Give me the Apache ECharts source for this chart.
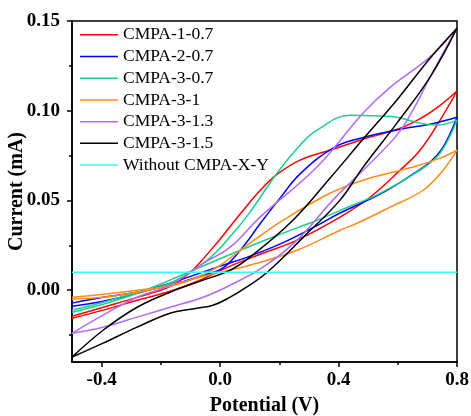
<!DOCTYPE html>
<html>
<head>
<meta charset="utf-8">
<script src="https://cdn.jsdelivr.net/npm/echarts@6/dist/echarts.min.js"></script>
<style>
  html, body { margin: 0; padding: 0; background: #fff; }
  #main { width: 471px; height: 416px; }
</style>
</head>
<body>
<div id="main"></div>
<script>
// CV loops: forward scan -0.5 -> 0.8 V, then back to -0.5 V  [potential, current]
var cmpa1_07 = [
  [-0.5, -0.0145], [-0.395, -0.0095], [-0.28, -0.004], [-0.169, 0.002], [-0.111, 0.0085],
  [-0.068, 0.0155], [-0.01, 0.0265], [0.034, 0.0355], [0.078, 0.0445], [0.135, 0.0555],
  [0.192, 0.0645], [0.27, 0.0725], [0.381, 0.0785], [0.473, 0.0836], [0.608, 0.0903],
  [0.685, 0.0965], [0.743, 0.103], [0.8, 0.111],
  [0.743, 0.0948], [0.675, 0.078], [0.608, 0.0669], [0.506, 0.0518], [0.405, 0.0407],
  [0.26, 0.0279], [0.145, 0.0206], [0.034, 0.0134], [-0.068, 0.0056], [-0.169, -0.0006],
  [-0.28, -0.0056], [-0.395, -0.0111], [-0.5, -0.0156]
];
var cmpa2_07 = [
  [-0.5, -0.0072], [-0.395, -0.0039], [-0.28, -0.0011], [-0.169, 0.0028], [-0.068, 0.0078],
  [0, 0.0115], [0.034, 0.0158], [0.084, 0.0255], [0.135, 0.037], [0.2025, 0.0513],
  [0.27, 0.0648], [0.381, 0.0792], [0.473, 0.0847], [0.608, 0.0897], [0.709, 0.0925],
  [0.8, 0.0964],
  [0.753, 0.0797], [0.709, 0.0714], [0.651, 0.0647], [0.54, 0.0535], [0.405, 0.043],
  [0.327, 0.036], [0.213, 0.0265], [0.101, 0.019], [0, 0.0134], [-0.068, 0.0095],
  [-0.169, 0.0039], [-0.28, -0.0017], [-0.395, -0.0061], [-0.5, -0.0089]
];
var cmpa3_07 = [
  [-0.5, -0.0111], [-0.395, -0.0067], [-0.28, -0.0011], [-0.169, 0.0039], [-0.044, 0.0167],
  [0.044, 0.0318], [0.101, 0.0435], [0.192, 0.0652], [0.27, 0.0808], [0.327, 0.0892],
  [0.439, 0.0975], [0.54, 0.097], [0.597, 0.0964], [0.675, 0.0931], [0.732, 0.092],
  [0.8, 0.0948],
  [0.743, 0.0764], [0.675, 0.0669], [0.54, 0.054], [0.439, 0.0468], [0.327, 0.039],
  [0.213, 0.0318], [0.101, 0.0245], [-0.068, 0.0128], [-0.169, 0.0056], [-0.28, -0.0017],
  [-0.395, -0.0078], [-0.5, -0.0123]
];
var cmpa3_1 = [
  [-0.5, -0.0039], [-0.395, -0.0022], [-0.28, 0], [-0.169, 0.0022], [-0.068, 0.0078],
  [0, 0.0139], [0.101, 0.0262], [0.213, 0.039], [0.371, 0.054], [0.483, 0.0613],
  [0.651, 0.0686], [0.743, 0.0736], [0.8, 0.078],
  [0.753, 0.0669], [0.685, 0.0557], [0.574, 0.0463], [0.462, 0.0373], [0.405, 0.0334],
  [0.26, 0.0223], [0.101, 0.0139], [0, 0.01], [-0.068, 0.0072], [-0.169, 0.0028],
  [-0.28, -0.0011], [-0.395, -0.0039], [-0.5, -0.005]
];
var cmpa3_13 = [
  [-0.5, -0.024], [-0.395, -0.0139], [-0.28, -0.0039], [-0.169, 0.0028], [-0.057, 0.015],
  [0.034, 0.024], [0.135, 0.0407], [0.327, 0.0686], [0.483, 0.0987], [0.574, 0.113],
  [0.709, 0.13], [0.8, 0.146],
  [0.709, 0.1187], [0.651, 0.1003], [0.597, 0.0864], [0.483, 0.0669], [0.381, 0.0502],
  [0.26, 0.0279], [0.145, 0.0128], [0.034, 0.0028], [-0.057, -0.0039], [-0.169, -0.0095],
  [-0.28, -0.015], [-0.395, -0.0206], [-0.5, -0.024]
];
var cmpa3_15 = [
  [-0.5, -0.0373], [-0.395, -0.0223], [-0.28, -0.0095], [-0.169, -0.0011], [-0.057, 0.0056],
  [0.034, 0.0111], [0.101, 0.0184], [0.246, 0.039], [0.371, 0.0624], [0.483, 0.0842],
  [0.597, 0.106], [0.709, 0.1293], [0.8, 0.146],
  [0.709, 0.1187], [0.597, 0.0931], [0.483, 0.0686], [0.405, 0.0502], [0.284, 0.03],
  [0.159, 0.01], [0.084, 0.0011], [0.034, -0.0039], [-0.024, -0.0084], [-0.078, -0.01],
  [-0.169, -0.0128], [-0.28, -0.0206], [-0.395, -0.0295], [-0.5, -0.0373]
];
var blank = [[-0.5, 0.01], [0.8, 0.01]];

var names = ["CMPA-1-0.7", "CMPA-2-0.7", "CMPA-3-0.7", "CMPA-3-1", "CMPA-3-1.3", "CMPA-3-1.5", "Without CMPA-X-Y"];
var colors = ["#ff0000", "#0000ff", "#19d08c", "#ff8c1a", "#b36bf5", "#000000", "#33ffff"];
var curves = [cmpa1_07, cmpa2_07, cmpa3_07, cmpa3_1, cmpa3_13, cmpa3_15, blank];

var xMajor = [-0.4, 0, 0.4, 0.8];
var xMinor = [-0.2, 0.2, 0.6];
var yMajor = [0, 0.05, 0.1, 0.15];
var yMinor = [-0.025, 0.025, 0.075, 0.125];

var serif = "'Times New Roman', 'Liberation Serif', serif";

var chart = echarts.init(document.getElementById("main"));

// split every loop at the vertex so the turning point stays sharp
function splitLoop(pts) {
  var k = 0;
  for (var j = 0; j < pts.length; j++) if (pts[j][0] >= pts[k][0]) k = j;
  return [pts.slice(0, k + 1), pts.slice(k)];
}

var series = [];
for (var i = 0; i < curves.length; i++) {
  var halves = splitLoop(curves[i]);
  for (var h = 0; h < halves.length; h++) {
    if (halves[h].length < 2) continue;
    series.push({
      name: names[i],
      type: "line",
      data: halves[h],
      smooth: 0.4,
      symbol: "none",
      color: colors[i],
      lineStyle: { width: 1.5, color: colors[i] }
    });
  }
}

var option = {
  animation: false,
  grid: {
    left: 72, right: 14, top: 21, bottom: 54,
    outerBoundsMode: "none",
    containLabel: false,
    show: true, borderColor: "#000", borderWidth: 1.5
  },
  legend: {
    orient: "vertical",
    left: 75,
    top: 19,
    icon: "rect",
    itemWidth: 38,
    itemHeight: 1.5,
    itemGap: 0,
    data: names,
    textStyle: { fontFamily: serif, fontSize: 17.5, color: "#000", lineHeight: 21.7 }
  },
  xAxis: [
    {
      type: "value", min: -0.5, max: 0.8,
      name: "Potential (V)", nameLocation: "middle", nameGap: 34,
      nameMoveOverlap: false,
      nameTextStyle: { fontFamily: serif, fontSize: 20, fontWeight: "bold", color: "#000" },
      axisLine: { show: true, onZero: false, lineStyle: { color: "#000", width: 1.5 } },
      axisTick: { show: true, length: 5, lineStyle: { color: "#000", width: 1.5 }, customValues: xMajor },
      axisLabel: {
        customValues: xMajor, margin: 9,
        fontFamily: serif, fontSize: 19, fontWeight: "bold", color: "#000",
        formatter: function (v) { return v.toFixed(1); }
      },
      splitLine: { show: false }
    },
    {
      type: "value", min: -0.5, max: 0.8, position: "bottom",
      axisLine: { show: false, onZero: false },
      axisTick: { show: true, length: 3, lineStyle: { color: "#000", width: 1.5 }, customValues: xMinor },
      axisLabel: { show: false },
      splitLine: { show: false }
    }
  ],
  yAxis: [
    {
      type: "value", min: -0.04, max: 0.15,
      name: "Current (mA)", nameLocation: "middle", nameGap: 45,
      nameMoveOverlap: false,
      nameTextStyle: { fontFamily: serif, fontSize: 20, fontWeight: "bold", color: "#000" },
      axisLine: { show: true, onZero: false, lineStyle: { color: "#000", width: 1.5 } },
      axisTick: { show: true, length: 5, lineStyle: { color: "#000", width: 1.5 }, customValues: yMajor },
      axisLabel: {
        customValues: yMajor, margin: 12,
        fontFamily: serif, fontSize: 19, fontWeight: "bold", color: "#000",
        formatter: function (v) { return v.toFixed(2); }
      },
      splitLine: { show: false }
    },
    {
      type: "value", min: -0.04, max: 0.15, position: "left",
      axisLine: { show: false, onZero: false },
      axisTick: { show: true, length: 3, lineStyle: { color: "#000", width: 1.5 }, customValues: yMinor },
      axisLabel: { show: false },
      splitLine: { show: false }
    }
  ],
  series: series
};

chart.setOption(option);
</script>
</body>
</html>
